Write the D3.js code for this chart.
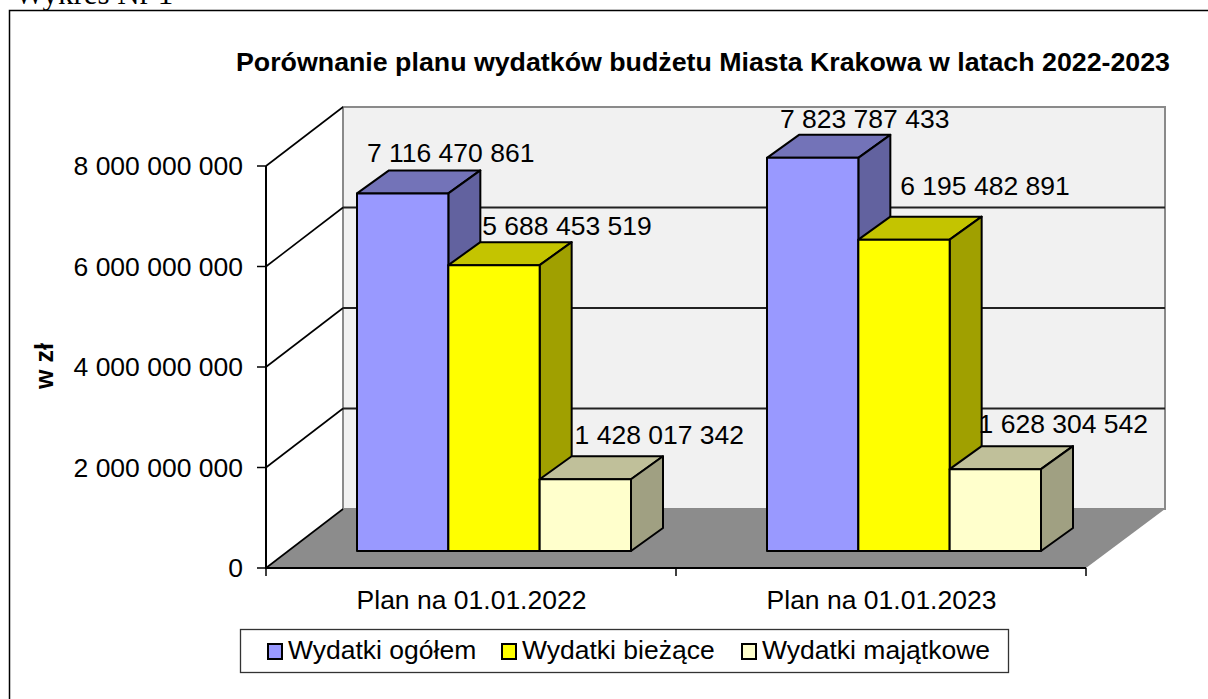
<!DOCTYPE html>
<html><head><meta charset="utf-8">
<script src="https://cdn.jsdelivr.net/npm/d3@7"></script>
<style>html,body{margin:0;padding:0;background:#fff;overflow:hidden}svg{display:block}text{font-family:"Liberation Sans",Arial,sans-serif;fill:#000}</style>
</head><body><svg id="c" width="1208" height="699"></svg>
<script>
const categories = ["Plan na 01.01.2022", "Plan na 01.01.2023"];
const seriesNames = ["Wydatki ogółem", "Wydatki bieżące", "Wydatki majątkowe"];
const ogolem = [7116470861, 7823787433];
const biezace = [5688453519, 6195482891];
const majatkowe = [1428017342, 1628304542];
const yTicks = [0, 2000000000, 4000000000, 6000000000, 8000000000];
const faceColors = ["#9999ff", "#ffff00", "#ffffcc"];
const topColors = ["#7373b8", "#c4c400", "#c0c09a"];
const sideColors = ["#62629f", "#a0a000", "#a0a082"];
// label nudges from each bar's top centre, [dx, dy] per series per category
const labelNudge = [[[48, -31], [52, -30]], [[73, -30], [81, -45]], [[74, -35], [68, -36]]];

const series = [ogolem, biezace, majatkowe];
const fmt = v => d3.format(",")(v).replace(/,/g, " ");
const svg = d3.select("#c");
const fs = 26.5;

const x = d3.scaleBand().domain(categories).range([266, 1086]);
const inner = d3.scaleBand().domain(d3.range(3)).range([0, 274]);
const y = d3.scaleLinear().domain([0, 8000000000]).range([568, 166]);
const wallDx = 77, wallDy = -59, barDx = 32, barDy = -23, baseDx = 23, baseDy = -17;
const groupOffset = (x.bandwidth() - inner.range()[1]) / 2;

// header and frame
svg.append("text").attr("x", 15).attr("y", 4).style("font-family", '"Liberation Serif",serif').style("font-size", "31px").text("Wykres Nr 1");
svg.append("rect").attr("x", 9.5).attr("y", 10.5).attr("width", 1300).attr("height", 800).attr("fill", "#fff").attr("stroke", "#000").attr("stroke-width", 1.5);

// walls
const wx0 = x.range()[0] + wallDx, wx1 = x.range()[1] + wallDx + 2;
svg.append("rect").attr("x", wx0).attr("y", y(8000000000) + wallDy).attr("width", wx1 - wx0).attr("height", y(0) - y(8000000000))
  .attr("fill", "#f1f1f1").attr("stroke", "#8a8a8a").attr("stroke-width", 2);
svg.append("polygon").attr("fill", "#8c8c8c").attr("points", [
  [x.range()[0], y(0)], [wx0, y(0) + wallDy], [wx1, y(0) + wallDy], [x.range()[1], y(0)]].join(" "));

// gridlines
yTicks.forEach(t => {
  const yy = y(t);
  svg.append("path").attr("fill", "none").attr("stroke", "#000").attr("stroke-width", 1.6)
    .attr("d", `M${x.range()[0]},${yy}L${wx0},${yy + wallDy}`);
  if (t > 0 && t < 8000000000)
    svg.append("line").attr("x1", wx0).attr("x2", wx1).attr("y1", yy + wallDy).attr("y2", yy + wallDy).attr("stroke", "#222").attr("stroke-width", 2);
});

// axes
const yAxis = svg.append("g");
yAxis.append("line").attr("x1", 266).attr("x2", 266).attr("y1", y(8000000000)).attr("y2", y(0)).attr("stroke", "#000").attr("stroke-width", 2);
yAxis.selectAll("line.t").data(yTicks).join("line").attr("class", "t").attr("x1", 257).attr("x2", 266).attr("y1", d => y(d)).attr("y2", d => y(d)).attr("stroke", "#000").attr("stroke-width", 1.5);
yAxis.selectAll("text").data(yTicks).join("text").attr("x", 243).attr("y", d => y(d) + 9).attr("text-anchor", "end").style("font-size", fs + "px").text(fmt);
const xAxis = svg.append("g");
xAxis.append("line").attr("x1", 265).attr("x2", 1086).attr("y1", y(0)).attr("y2", y(0)).attr("stroke", "#000").attr("stroke-width", 2.2);
xAxis.selectAll("line.t").data([...categories.map(c => x(c)), x.range()[1]]).join("line").attr("class", "t").attr("x1", d => d).attr("x2", d => d).attr("y1", y(0)).attr("y2", 576).attr("stroke", "#000").attr("stroke-width", 1.5);
xAxis.selectAll("text").data(categories).join("text").attr("x", d => x(d) + x.bandwidth() / 2 + 0.5).attr("y", 609).attr("text-anchor", "middle").style("font-size", fs + "px").text(d => d);

// bars
const base = y(0) + baseDy;
const barScale = v => base - (y(0) - y(v));
const labels = [];
categories.forEach((c, ci) => {
  series.forEach((vals, si) => {
    const v = vals[ci];
    const x0 = x(c) + groupOffset + baseDx + inner(si), x1 = x0 + inner.bandwidth(), t = barScale(v);
    const g = svg.append("g").attr("stroke", "#000").attr("stroke-width", 2).attr("stroke-linejoin", "round");
    g.append("polygon").attr("fill", topColors[si]).attr("points", [[x0, t], [x0 + barDx, t + barDy], [x1 + barDx, t + barDy], [x1, t]].join(" "));
    g.append("polygon").attr("fill", sideColors[si]).attr("points", [[x1, t], [x1 + barDx, t + barDy], [x1 + barDx, base + barDy], [x1, base]].join(" "));
    g.append("rect").attr("x", x0).attr("y", t).attr("width", x1 - x0).attr("height", base - t).attr("fill", faceColors[si]);
    labels.push({ v, cx: (x0 + x1) / 2 + labelNudge[si][ci][0], by: t + labelNudge[si][ci][1] });
  });
});
svg.selectAll("text.lab").data(labels).join("text").attr("class", "lab").attr("x", d => d.cx).attr("y", d => d.by).attr("text-anchor", "middle").style("font-size", fs + "px").text(d => fmt(d.v));

// title
svg.append("text").attr("x", 236).attr("y", 71).style("font-size", "25px").style("font-weight", "bold").attr("textLength", 934).attr("lengthAdjust", "spacingAndGlyphs").text("Porównanie planu wydatków budżetu Miasta Krakowa w latach 2022-2023");
svg.append("text").attr("transform", "translate(53,366) rotate(-90)").attr("text-anchor", "middle").style("font-size", "25px").style("font-weight", "bold").text("w zł");

// legend
svg.append("rect").attr("x", 240.5).attr("y", 629.5).attr("width", 768).attr("height", 43).attr("fill", "#fff").attr("stroke", "#333").attr("stroke-width", 1.3);
const legendX = [268, 502, 742];
seriesNames.forEach((n, i) => {
  svg.append("rect").attr("x", legendX[i]).attr("y", 644).attr("width", 14).attr("height", 15).attr("fill", faceColors[i]).attr("stroke", "#000").attr("stroke-width", 2);
  svg.append("text").attr("x", legendX[i] + 20).attr("y", 659).style("font-size", fs + "px").text(n);
});
</script></body></html>
